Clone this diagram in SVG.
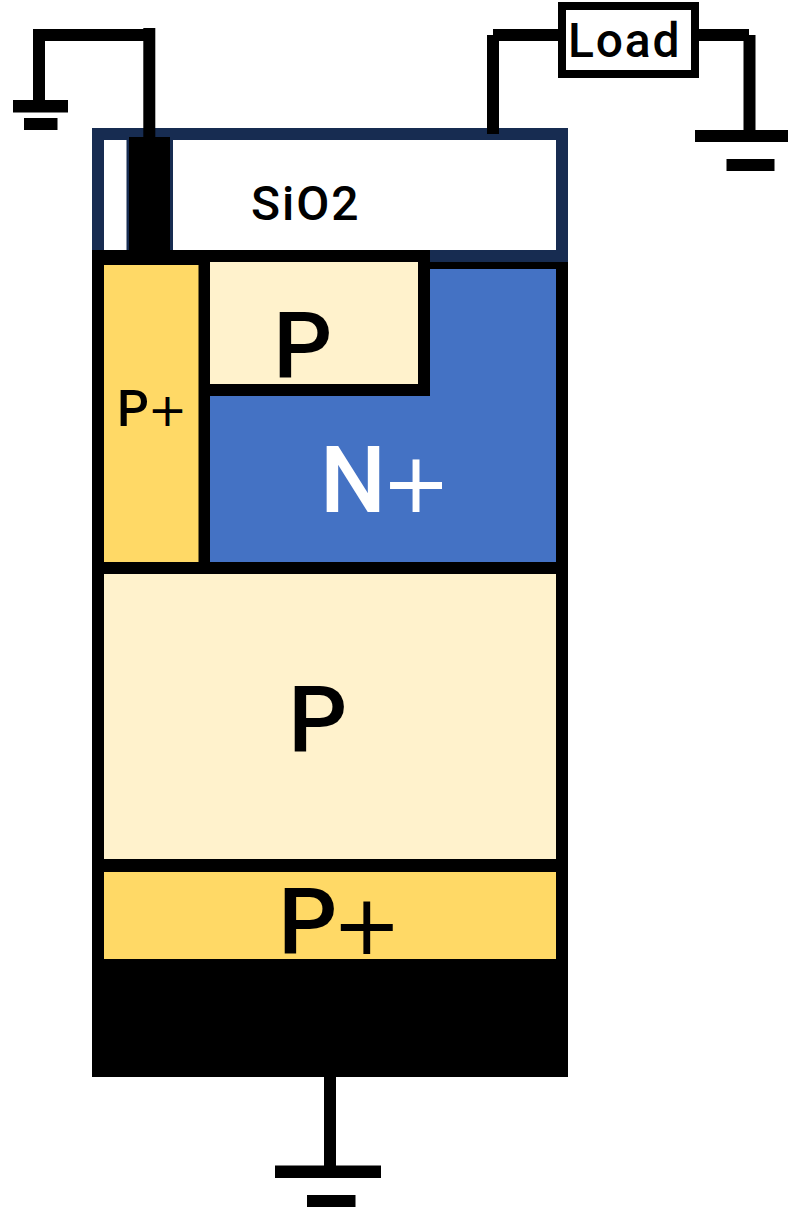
<svg xmlns="http://www.w3.org/2000/svg" width="788" height="1215" viewBox="0 0 788 1215">
<style>
.b{fill:#000}
.n{fill:#172c51}
.l{fill:#fff2cc}
.y{fill:#ffd966}
.t{font-family:"Roboto","Liberation Sans",sans-serif;fill:#000;font-weight:500}
.p{font-family:"DejaVu Sans",sans-serif;font-weight:400}
</style>
<rect width="788" height="1215" fill="#fff"/>
<g id="sio2">
<rect class="n" x="92" y="128" width="476" height="141"/>
<rect x="104" y="140" width="452" height="110" fill="#fff"/>
<rect class="n" x="126.500" y="140" width="46.500" height="112"/>
<text class="t" x="251" y="220" font-size="48" letter-spacing="2">SiO2</text>
</g>
<g id="body">
<rect class="b" x="92" y="262" width="476" height="708"/>
<rect class="b" x="92" y="250" width="338" height="14"/>
</g>
<g id="n-plus">
<rect x="210" y="269" width="346" height="293" fill="#4472c4"/>
<text class="t" x="320" y="512" font-size="93" style="fill:#fff">N<tspan class="p" x="381.200" font-size="83">+</tspan></text>
</g>
<g id="p-top">
<rect class="b" x="198" y="250" width="232" height="146"/>
<rect class="l" x="210" y="262" width="208" height="122"/>
<text class="t" x="273" y="377.500" font-size="93">P</text>
</g>
<g id="p-plus-left">
<rect class="y" x="104" y="265" width="94.500" height="297"/>
<text class="t" x="117" y="426" font-size="50" font-weight="600">P<tspan class="p" x="147.700" font-size="47">+</tspan></text>
</g>
<g id="p-mid">
<rect class="l" x="104" y="574" width="452" height="285"/>
<text class="t" x="288" y="752" font-size="93">P</text>
</g>
<g id="p-plus-bottom">
<rect class="y" x="104" y="872" width="452" height="87"/>
<text class="t" x="278" y="954" font-size="93">P<tspan class="p" x="331.900" font-size="83">+</tspan></text>
</g>
<g id="electrode"><rect class="b" x="92" y="959" width="476" height="118"/></g>
<g id="contact"><rect class="b" x="129" y="137" width="41" height="116"/></g>
<g id="connectors" class="b">
<rect x="33" y="29" width="122" height="12"/>
<rect x="33" y="29" width="12" height="72"/>
<rect x="143.300" y="28" width="12" height="110"/>
<rect x="487" y="35" width="12" height="99"/>
<rect x="493" y="29" width="66" height="12"/>
<rect x="698" y="29" width="51" height="12"/>
<rect x="743.500" y="35" width="12" height="96"/>
<rect x="324" y="1077" width="12" height="90"/>
</g>
<g id="ground-1" class="b"><rect x="13" y="100" width="55" height="12.500"/><rect x="24" y="118" width="33.500" height="12"/></g>
<g id="ground-2" class="b"><rect x="695" y="130" width="93" height="12"/><rect x="726.500" y="159" width="48" height="12"/></g>
<g id="ground-3" class="b"><rect x="275" y="1165.500" width="106" height="12.500"/><rect x="307" y="1195" width="48.500" height="12"/></g>
<g id="load">
<rect x="562" y="6" width="133" height="68" fill="#fff" stroke="#000" stroke-width="8"/>
<text class="t" x="568" y="56.500" font-size="48" letter-spacing="1.800">Load</text>
</g>
</svg>
